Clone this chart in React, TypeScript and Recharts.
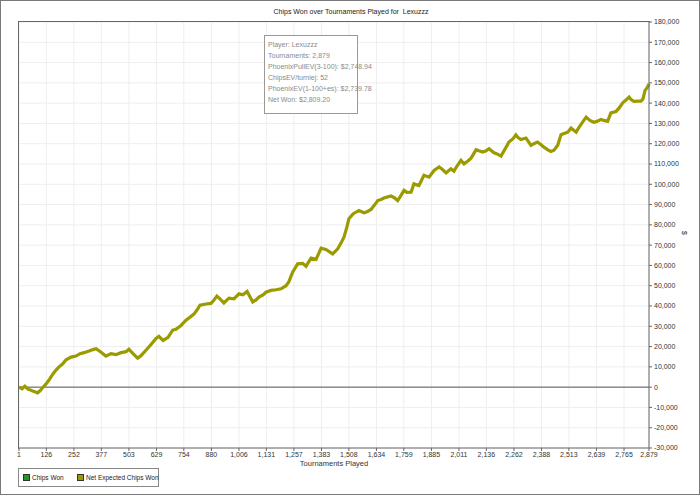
import React from 'react';
import { LineChart, Line, XAxis, YAxis, CartesianGrid, ReferenceLine } from 'recharts';

const TITLE = 'Chips Won over Tournaments Played for  Lexuzzz';
const X_TICKS = [1, 126, 252, 377, 503, 629, 754, 880, 1006, 1131, 1257, 1383, 1508, 1634, 1759, 1885, 2011, 2136, 2262, 2388, 2513, 2639, 2765, 2879];
const Y_TICKS = [-30000, -20000, -10000, 0, 10000, 20000, 30000, 40000, 50000, 60000, 70000, 80000, 90000, 100000, 110000, 120000, 130000, 140000, 150000, 160000, 170000, 180000];
const LEGEND_NAMES = ['Chips Won', 'Net Expected Chips Won'];
const LEGEND_COLORS = ['#1f9a1f', '#9b9b00'];
const INFO_LINES = ['Player: Lexuzzz', 'Tournaments: 2,879', 'PhoenixPullEV(3-100): $2,748.94', 'ChipsEV/turniej: 52', 'PhoenixEV(1-100+es): $2,739.78', 'Net Won: $2,809.20'];

const TOURNAMENTS = [1, 15, 28, 42, 56, 70, 86, 97, 109, 124, 138, 156, 170, 184, 201, 216, 239, 261, 280, 298, 321, 339, 353, 376, 398, 421, 444, 467, 490, 503, 522, 543, 558, 581, 604, 627, 640, 659, 682, 703, 718, 741, 764, 782, 800, 814, 828, 855, 878, 890, 905, 919, 937, 960, 983, 1006, 1024, 1043, 1069, 1084, 1097, 1116, 1129, 1152, 1175, 1198, 1221, 1234, 1251, 1274, 1297, 1312, 1335, 1358, 1381, 1403, 1434, 1457, 1472, 1486, 1499, 1508, 1527, 1554, 1577, 1591, 1609, 1623, 1640, 1655, 1668, 1700, 1714, 1731, 1746, 1760, 1773, 1792, 1805, 1828, 1851, 1874, 1897, 1920, 1933, 1952, 1974, 1988, 2002, 2020, 2034, 2052, 2066, 2089, 2102, 2119, 2135, 2148, 2171, 2185, 2203, 2226, 2239, 2258, 2271, 2281, 2294, 2317, 2340, 2353, 2370, 2386, 2399, 2417, 2431, 2445, 2462, 2477, 2491, 2508, 2523, 2546, 2560, 2578, 2592, 2609, 2627, 2641, 2660, 2673, 2690, 2705, 2728, 2742, 2759, 2774, 2788, 2797, 2810, 2829, 2842, 2851, 2861, 2870, 2879];
const NET_EXPECTED = [0, -800, 500, -1000, -1500, -2200, -2800, -1800, -300, 1500, 3500, 6500, 8400, 10000, 11500, 13500, 14800, 15300, 16500, 17000, 17800, 18500, 18900, 17200, 15300, 16500, 16000, 17000, 17500, 18700, 16500, 14300, 15500, 18200, 21000, 24000, 25000, 23000, 24500, 28100, 28500, 30400, 33000, 34500, 36000, 38000, 40400, 41000, 41300, 42700, 44900, 43500, 41500, 43900, 43500, 46000, 45500, 47200, 42000, 43000, 44400, 45500, 46800, 47700, 48000, 48500, 50000, 52000, 56700, 60800, 61000, 59600, 63600, 63000, 68500, 67900, 65700, 68200, 71000, 74000, 79000, 83000, 85400, 87100, 86000, 86500, 87600, 89500, 92000, 92500, 93200, 94200, 93500, 92000, 94500, 97000, 96000, 96100, 100200, 99400, 104400, 103500, 106800, 108500, 107500, 105600, 107600, 106500, 109000, 111800, 110100, 111500, 112900, 117000, 116500, 115900, 116500, 117500, 115500, 115000, 113900, 118300, 120800, 122500, 124400, 123000, 122100, 122800, 119200, 120000, 120800, 119500, 118300, 117000, 116200, 116800, 119200, 124400, 125000, 125700, 127700, 125700, 128200, 131000, 133100, 131500, 130600, 131000, 132000, 131500, 131000, 135200, 135900, 137500, 140200, 141500, 143000, 141800, 140900, 141000, 141000, 142000, 146300, 147500, 149500];

const data = TOURNAMENTS.map((t, i) => ({ t, net: NET_EXPECTED[i] }));
const fmt = (v: number) => v.toLocaleString('en-US');
const FONT = '"Liberation Sans", Arial, sans-serif';
const LEGEND_LEFT = [4, 58];

export default function App() {
  return (
    <div style={{ position: 'absolute', left: 0, top: 0, width: 700, height: 495, background: '#fff', border: '1px solid #7a7a7a', boxSizing: 'border-box', fontFamily: FONT, overflow: 'hidden' }}>
      <div style={{ position: 'absolute', left: 0, top: 0, width: 700, height: 495 }}>
        <LineChart width={700} height={495} data={data} margin={{ top: 21, left: 18, right: 12, bottom: 28 }}>
          <CartesianGrid stroke="#eeeeee" strokeWidth={1} />
          <XAxis
            dataKey="t"
            type="number"
            domain={[1, 2879]}
            ticks={X_TICKS}
            interval={0}
            tickFormatter={fmt}
            height={20}
            stroke="#666"
            tickSize={3}
            tickMargin={1}
            tick={{ fontSize: 7, fill: '#333', fontFamily: FONT }}
            label={{ value: 'Tournaments Played', position: 'insideBottom', offset: 2, fontSize: 7.5, fill: '#333', fontFamily: FONT }}
          />
          <YAxis
            orientation="right"
            type="number"
            domain={[-30000, 180000]}
            ticks={Y_TICKS}
            interval={0}
            tickFormatter={fmt}
            width={40}
            stroke="#666"
            tickSize={3}
            tickMargin={2}
            tick={{ fontSize: 7, fill: '#333', fontFamily: FONT, textAnchor: 'start' }}
            label={{ value: '$', angle: 90, position: 'insideRight', offset: 5, fontSize: 7, fill: '#333', fontFamily: FONT }}
          />
          <ReferenceLine y={0} stroke="#555" strokeWidth={1} />
          <Line type="linear" dataKey="net" stroke="#9b9b00" strokeWidth={3.2} dot={false} isAnimationActive={false} />
        </LineChart>
      </div>
      {/* plot frame top & left */}
      <div style={{ position: 'absolute', left: 17, top: 20, width: 631, height: 427, borderTop: '1px solid #666', borderLeft: '1px solid #666', pointerEvents: 'none' }} />
      {/* title */}
      <div style={{ position: 'absolute', left: 0, top: 7, width: 700, textAlign: 'center', fontSize: 7, color: '#222', whiteSpace: 'pre' }}>{TITLE}</div>
      {/* info box */}
      <div style={{ position: 'absolute', left: 263, top: 34, width: 94, height: 79, border: '1px solid #999', background: '#fff', boxSizing: 'border-box', padding: '3px 0 0 3px' }}>
        {INFO_LINES.map((l) => (
          <div key={l} style={{ fontSize: 7, lineHeight: '11px', color: '#8a8a8a', whiteSpace: 'nowrap' }}>{l}</div>
        ))}
      </div>
      {/* legend */}
      <div style={{ position: 'absolute', left: 17, top: 467, width: 141, height: 19, border: '1px solid #888', boxSizing: 'border-box' }}>
        {LEGEND_NAMES.map((n, i) => (
          <div key={n} style={{ position: 'absolute', left: LEGEND_LEFT[i], top: 0, height: 17, display: 'flex', alignItems: 'center' }}>
            <div style={{ width: 5, height: 5, background: LEGEND_COLORS[i], border: '1px solid #333', marginRight: 2 }} />
            <span style={{ fontSize: 6.5, color: '#222', whiteSpace: 'nowrap' }}>{n}</span>
          </div>
        ))}
      </div>
    </div>
  );
}
